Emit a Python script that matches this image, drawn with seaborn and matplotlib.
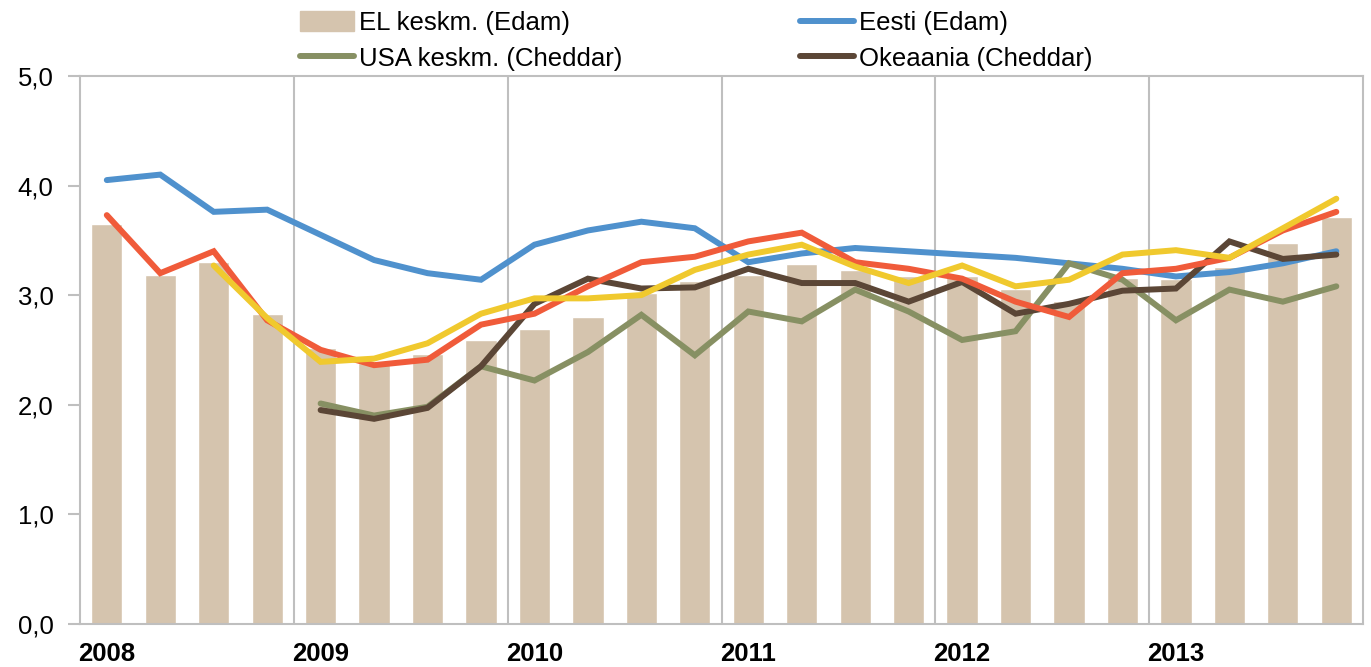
import numpy as np
import pandas as pd
import matplotlib
matplotlib.use("Agg")
import matplotlib.pyplot as plt
import seaborn as sns
from matplotlib.patches import Patch
from matplotlib.lines import Line2D

# Kvartalid 2008 I - 2013 IV
quarters = [f"{y} Q{q}" for y in range(2008, 2014) for q in range(1, 5)]
years = ["2008", "2009", "2010", "2011", "2012", "2013"]

# EL keskm. (Edam) - tulbad
el_edam = [3.65, 3.18, 3.30, 2.83, 2.52, 2.38, 2.46, 2.59, 2.69, 2.80, 3.02, 3.13,
           3.18, 3.28, 3.23, 3.17, 3.17, 3.06, 2.95, 3.16, 3.15, 3.26, 3.48, 3.71]
# Eesti (Edam)
eesti = [4.05, 4.10, 3.76, 3.78, 3.55, 3.32, 3.20, 3.14, 3.46, 3.59, 3.67, 3.61,
         3.30, 3.38, 3.43, 3.40, 3.37, 3.34, 3.29, 3.24, 3.17, 3.21, 3.29, 3.40]
# punane joon (legendis pole)
red = [3.73, 3.20, 3.40, 2.77, 2.50, 2.36, 2.41, 2.73, 2.83, 3.08, 3.30, 3.35,
       3.49, 3.57, 3.30, 3.24, 3.15, 2.94, 2.80, 3.20, 3.24, 3.34, 3.59, 3.76]
# kollane joon (legendis pole)
yellow = [np.nan, np.nan, 3.27, 2.79, 2.39, 2.42, 2.56, 2.83, 2.97, 2.97, 3.00, 3.23,
          3.37, 3.46, 3.26, 3.11, 3.27, 3.08, 3.14, 3.37, 3.41, 3.34, 3.61, 3.88]
# USA keskm. (Cheddar)
usa = [np.nan, np.nan, np.nan, np.nan, 2.01, 1.90, 1.98, 2.35, 2.22, 2.48, 2.82, 2.45,
       2.85, 2.76, 3.05, 2.85, 2.59, 2.67, 3.29, 3.14, 2.77, 3.05, 2.94, 3.08]
# Okeaania (Cheddar)
okeaania = [np.nan, np.nan, np.nan, np.nan, 1.95, 1.87, 1.97, 2.35, 2.92, 3.15, 3.06, 3.07,
            3.24, 3.11, 3.11, 2.94, 3.12, 2.83, 2.92, 3.04, 3.06, 3.49, 3.33, 3.37]

df = pd.DataFrame({"kvartal": quarters, "el": el_edam, "eesti": eesti, "red": red,
                   "yellow": yellow, "usa": usa, "okeaania": okeaania})
df["pos"] = np.arange(len(df))

sns.set_style("white")
plt.rcParams["font.family"] = ["Liberation Sans", "DejaVu Sans"]
plt.rcParams["text.color"] = "black"
plt.rcParams["xtick.color"] = "black"
plt.rcParams["ytick.color"] = "black"

grid_c = "#BFBFBF"
fig, ax = plt.subplots(figsize=(13.71, 6.67), dpi=100)
fig.subplots_adjust(left=0.0584, right=0.9942, top=0.886, bottom=0.065)

sns.barplot(data=df, x="pos", y="el", native_scale=True, width=0.585, color="#D5C4AE",
            saturation=1, ax=ax, zorder=2)

lw = 4.3
series = [("eesti", "#4F91CD"), ("usa", "#879063"), ("okeaania", "#5B4636"),
          ("red", "#F05B3A"), ("yellow", "#F0C92E")]
for col, c in series:
    sns.lineplot(data=df, x="pos", y=col, color=c, linewidth=lw, ax=ax, zorder=3,
                 solid_capstyle="round", solid_joinstyle="miter")

ax.set_xlim(-0.5, len(df) - 0.5)
ax.set_ylim(0, 5)
ax.set_xlabel("")
ax.set_ylabel("")

# aastate piirid
for b in np.arange(4, len(df), 4) - 0.5:
    ax.axvline(b, color=grid_c, linewidth=1.5, zorder=1)

ax.set_yticks([0, 1, 2, 3, 4, 5])
ax.set_yticklabels([f"{v:.1f}".replace(".", ",") for v in range(6)])
ax.set_xticks(df["pos"][::4])
ax.set_xticklabels(years, fontweight="bold")
ax.tick_params(axis="y", labelsize=18.5, length=9, width=1.5, color=grid_c, pad=10, left=True)
ax.tick_params(axis="x", labelsize=18.5, length=0, pad=13)

for s in ax.spines.values():
    s.set_color(grid_c)
    s.set_linewidth(1.5)

handles = [Patch(color="#D5C4AE"),
           Line2D([], [], color="#879063", lw=lw, solid_capstyle="round"),
           Line2D([], [], color="#4F91CD", lw=lw, solid_capstyle="round"),
           Line2D([], [], color="#5B4636", lw=lw, solid_capstyle="round")]
labels = ["EL keskm. (Edam)", "USA keskm. (Cheddar)", "Eesti (Edam)", "Okeaania (Cheddar)"]
fig.legend(handles, labels, ncol=2, loc="upper left", bbox_to_anchor=(300 / 1371, 1 - 11 / 667),
           frameon=False, fontsize=18.5, borderpad=0, borderaxespad=0, handlelength=2.1,
           handleheight=0.8, handletextpad=0.2, columnspacing=6.9, labelspacing=0.45)

fig.savefig("out.png", dpi=100)
